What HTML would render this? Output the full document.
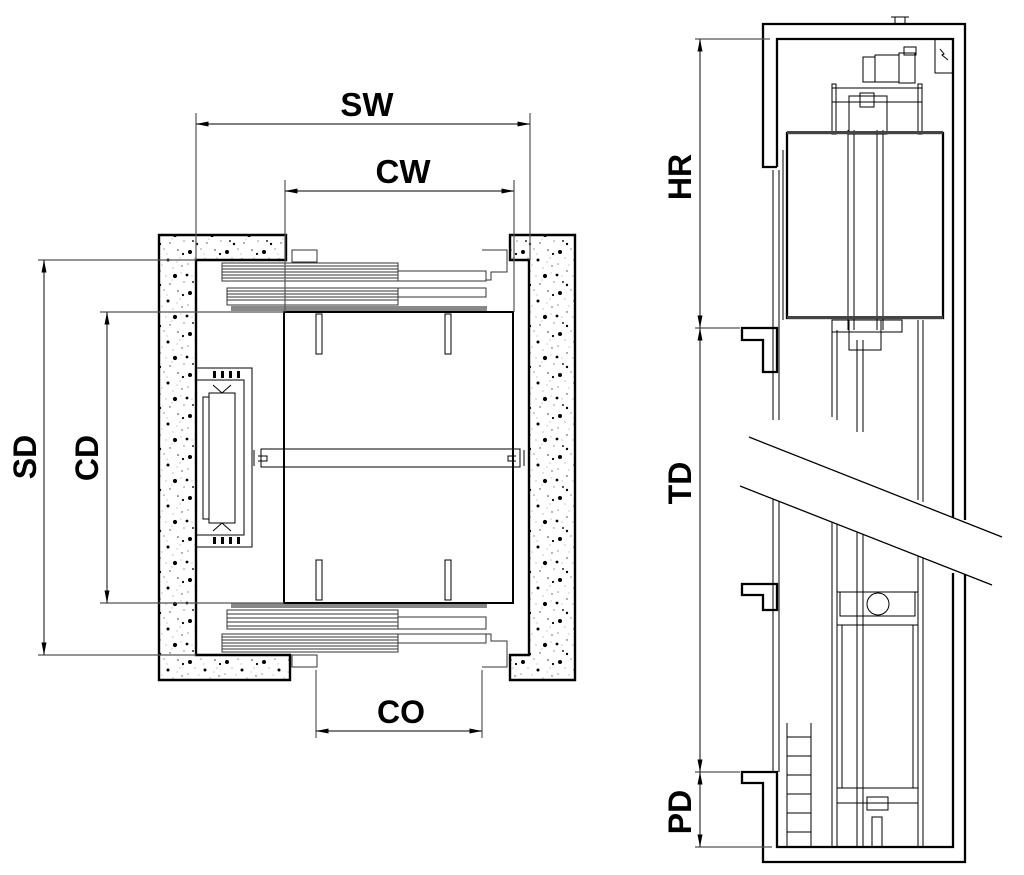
<!DOCTYPE html>
<html><head><meta charset="utf-8"><style>
html,body{margin:0;padding:0;background:#fff;}
svg{display:block;}
text{font-family:"Liberation Sans",sans-serif;font-weight:bold;fill:#000;}
</style></head><body>
<svg width="1024" height="875" viewBox="0 0 1024 875" xmlns="http://www.w3.org/2000/svg">
<defs>
<pattern id="conc" width="37" height="41" patternUnits="userSpaceOnUse">
<rect width="37" height="41" fill="#fff"/>
<circle cx="5" cy="6" r="2" fill="#000"/><circle cx="20" cy="14" r="1.5" fill="#000"/>
<circle cx="30" cy="4" r="0.8" fill="#333"/><circle cx="12" cy="25" r="0.7" fill="#333"/>
<circle cx="27" cy="30" r="2.1" fill="#000"/><circle cx="8" cy="36" r="1" fill="#222"/>
<circle cx="34" cy="20" r="0.7" fill="#444"/><circle cx="16" cy="3" r="0.6" fill="#555"/>
<circle cx="3" cy="18" r="0.6" fill="#555"/><circle cx="22" cy="38" r="0.7" fill="#444"/>
<circle cx="32" cy="12" r="0.5" fill="#666"/><circle cx="10" cy="12" r="0.5" fill="#666"/>
<circle cx="18" cy="30" r="0.5" fill="#666"/><circle cx="36" cy="36" r="0.6" fill="#555"/>
<circle cx="25" cy="22" r="0.5" fill="#666"/><circle cx="2" cy="29" r="1.4" fill="#000"/>
<circle cx="14" cy="19" r="0.5" fill="#777"/><circle cx="29" cy="16" r="0.5" fill="#777"/>
<circle cx="7" cy="30" r="0.5" fill="#777"/><circle cx="33" cy="27" r="0.5" fill="#777"/>
<circle cx="19" cy="8" r="0.5" fill="#777"/><circle cx="24" cy="34" r="0.5" fill="#777"/>
<circle cx="12" cy="39" r="1.2" fill="#000"/><circle cx="35" cy="8" r="1.1" fill="#000"/>
</pattern>
<marker id="ar" viewBox="0 0 10 4" refX="10" refY="2" markerWidth="16" markerHeight="5" markerUnits="userSpaceOnUse" orient="auto-start-reverse"><path d="M0,0L10,2L0,4z" fill="#000"/></marker>
</defs>

<!-- ===== LEFT PLAN ===== -->
<g stroke="#000" fill="url(#conc)" stroke-width="2.4">
<path d="M159,235H286V260H196V655H290V680H159Z"/>
<path d="M510,235H575V680H510V655H529V260H510Z"/>
</g>
<g fill="none" stroke="#333" stroke-width="1">
<rect x="222" y="263" width="176" height="18"/>
<line x1="222" y1="266" x2="398" y2="266"/><line x1="222" y1="269" x2="398" y2="269"/><line x1="222" y1="272" x2="398" y2="272"/><line x1="222" y1="275" x2="398" y2="275"/><line x1="222" y1="278" x2="398" y2="278"/>
<rect x="398" y="271" width="88" height="10"/>
<rect x="227" y="288" width="171" height="17"/>
<line x1="227" y1="291" x2="398" y2="291"/><line x1="227" y1="294" x2="398" y2="294"/><line x1="227" y1="297" x2="398" y2="297"/><line x1="227" y1="300" x2="398" y2="300"/>
<rect x="398" y="288" width="88" height="9"/>
<rect x="292" y="250" width="25" height="12"/>
<path d="M482,250H507V272H491V280H486"/>
<rect x="227" y="610" width="171" height="19"/>
<line x1="227" y1="614" x2="398" y2="614"/><line x1="227" y1="618" x2="398" y2="618"/><line x1="227" y1="622" x2="398" y2="622"/><line x1="227" y1="626" x2="398" y2="626"/>
<rect x="398" y="617" width="88" height="12"/>
<rect x="222" y="634" width="176" height="18"/>
<line x1="222" y1="637" x2="398" y2="637"/><line x1="222" y1="640" x2="398" y2="640"/><line x1="222" y1="643" x2="398" y2="643"/><line x1="222" y1="646" x2="398" y2="646"/><line x1="222" y1="649" x2="398" y2="649"/>
<rect x="398" y="634" width="88" height="9"/>
<rect x="292" y="655" width="25" height="12"/>
<path d="M482,667H507V641H491V634H486"/>
</g>
<rect x="231" y="306" width="256" height="5" fill="#888"/>
<rect x="231" y="603" width="256" height="5" fill="#888"/>
<rect x="284" y="312" width="229" height="291" fill="none" stroke="#000" stroke-width="2"/>
<g fill="none" stroke="#000" stroke-width="1">
<rect x="261" y="449" width="259" height="18"/>
<path d="M254,450v16M258,456h9v5h-9M524,450v16M516,456h-8v5h8"/>
<rect x="316" y="314" width="6" height="40"/><rect x="445" y="314" width="6" height="40"/>
<rect x="316" y="560" width="6" height="40"/><rect x="445" y="560" width="6" height="40"/>
<rect x="196" y="368" width="56" height="179"/>
<rect x="196" y="380" width="48" height="155"/>
<rect x="209" y="393" width="26" height="130"/>
<rect x="203" y="397" width="6" height="122"/>
<path d="M213,385l9,8l9,-8M213,531l9,-8l9,8"/>
</g>
<g fill="#000">
<rect x="213" y="371" width="3" height="7"/><rect x="221" y="371" width="3" height="7"/><rect x="229" y="371" width="3" height="7"/><rect x="237" y="371" width="3" height="7"/>
<rect x="213" y="537" width="3" height="7"/><rect x="221" y="537" width="3" height="7"/><rect x="229" y="537" width="3" height="7"/><rect x="237" y="537" width="3" height="7"/>
</g>
<g stroke="#555" stroke-width="1.2" fill="none">
<line x1="196" y1="113" x2="196" y2="260"/><line x1="530" y1="113" x2="530" y2="260"/>
<line x1="285" y1="180" x2="285" y2="312"/><line x1="514" y1="180" x2="514" y2="312"/>
<line x1="38" y1="260" x2="196" y2="260"/><line x1="38" y1="655" x2="196" y2="655"/>
<line x1="100" y1="312" x2="284" y2="312"/><line x1="100" y1="603" x2="284" y2="603"/>
<line x1="316" y1="670" x2="316" y2="738"/><line x1="482" y1="670" x2="482" y2="738"/>
</g>
<g stroke="#333" stroke-width="1.2" marker-start="url(#ar)" marker-end="url(#ar)">
<line x1="196" y1="124" x2="530" y2="124"/>
<line x1="285" y1="191" x2="514" y2="191"/>
<line x1="44" y1="260" x2="44" y2="655"/>
<line x1="107" y1="312" x2="107" y2="603"/>
<line x1="316" y1="731" x2="482" y2="731"/>
</g>
<text x="367" y="116" font-size="33" text-anchor="middle">SW</text>
<text x="403" y="183" font-size="33" text-anchor="middle">CW</text>
<text x="401" y="723" font-size="32" text-anchor="middle">CO</text>
<text transform="translate(36,457) rotate(-90)" font-size="32" text-anchor="middle">SD</text>
<text transform="translate(98,458) rotate(-90)" font-size="32" text-anchor="middle">CD</text>

<!-- ===== RIGHT SECTION ===== -->
<g fill="none" stroke="#000" stroke-width="2.3">
<path d="M777,167H763V24H965V520"/>
<path d="M777,167V39H953V520"/>
<path d="M965,573V862H763V783H742V772H777V847H953V573"/>
<path d="M742,328H777V372H763V340H742Z"/>
<path d="M742,584H777V610H763V595H742Z"/>
<rect x="787" y="133" width="156" height="185"/>
</g>
<g fill="none" stroke="#000" stroke-width="1">
<path d="M895,24V17h10v7M891,17h18"/>
<rect x="935" y="39" width="18" height="34"/>
<path d="M940,49l4,5l-2,1l6,5"/>
<rect x="863" y="57" width="12" height="25"/><rect x="875" y="55" width="24" height="27"/>
<rect x="899" y="53" width="16" height="30"/><rect x="904" y="47" width="12" height="8"/>
<rect x="832" y="88" width="90" height="14"/>
<rect x="832" y="84" width="4" height="50"/><rect x="918" y="84" width="4" height="50"/>
<rect x="849" y="96" width="38" height="38"/>
<rect x="860" y="93" width="14" height="14"/>
<line x1="848" y1="130" x2="848" y2="330"/><line x1="854" y1="130" x2="854" y2="330"/>
<line x1="877" y1="130" x2="877" y2="330"/><line x1="883" y1="130" x2="883" y2="330"/>
<line x1="857" y1="340" x2="857" y2="432"/><line x1="863" y1="340" x2="863" y2="432"/>
<line x1="857" y1="520" x2="857" y2="847"/><line x1="863" y1="520" x2="863" y2="847"/>
<line x1="832" y1="330" x2="832" y2="417"/><line x1="837" y1="330" x2="837" y2="420"/>
<line x1="832" y1="503" x2="832" y2="847"/><line x1="837" y1="505" x2="837" y2="847"/>
<line x1="918" y1="320" x2="918" y2="500"/><line x1="923" y1="320" x2="923" y2="502"/>
<line x1="918" y1="555" x2="918" y2="847"/><line x1="923" y1="557" x2="923" y2="847"/>
<rect x="832" y="320" width="70" height="12"/>
<rect x="849" y="320" width="32" height="30"/>
<line x1="773" y1="170" x2="773" y2="420"/><line x1="779" y1="170" x2="779" y2="420"/>
<line x1="773" y1="498" x2="773" y2="772"/><line x1="779" y1="498" x2="779" y2="772"/>
<line x1="783" y1="150" x2="783" y2="320"/>
<rect x="837" y="592" width="81" height="211"/>
<rect x="840" y="592" width="75" height="24"/>
<line x1="842" y1="625" x2="842" y2="788"/><line x1="913" y1="625" x2="913" y2="788"/>
<line x1="837" y1="625" x2="918" y2="625"/><line x1="837" y1="788" x2="918" y2="788"/>
<circle cx="878" cy="604" r="11"/>
<rect x="867" y="797" width="21" height="13"/>
<rect x="872" y="817" width="10" height="30"/>
<line x1="787" y1="723" x2="787" y2="847"/><line x1="811" y1="723" x2="811" y2="847"/>
<line x1="787" y1="737" x2="811" y2="737"/><line x1="787" y1="756" x2="811" y2="756"/><line x1="787" y1="775" x2="811" y2="775"/><line x1="787" y1="794" x2="811" y2="794"/><line x1="787" y1="813" x2="811" y2="813"/><line x1="787" y1="832" x2="811" y2="832"/>
</g>
<rect x="787" y="131" width="156" height="3" fill="#444"/>
<rect x="787" y="316" width="156" height="3" fill="#444"/>
<polygon points="749,437 1002,537 992,585 740,486" fill="#fff"/>
<g stroke="#000" stroke-width="1.3">
<line x1="749" y1="437" x2="1002" y2="537"/>
<line x1="740" y1="486" x2="992" y2="585"/>
</g>
<g stroke="#555" stroke-width="1.2">
<line x1="695" y1="39" x2="770" y2="39"/>
<line x1="695" y1="328" x2="740" y2="328"/>
<line x1="695" y1="772" x2="740" y2="772"/>
<line x1="695" y1="847" x2="772" y2="847"/>
</g>
<g stroke="#333" stroke-width="1.2" marker-start="url(#ar)" marker-end="url(#ar)">
<line x1="700" y1="39" x2="700" y2="328"/>
<line x1="700" y1="328" x2="700" y2="772"/>
<line x1="700" y1="772" x2="700" y2="847"/>
</g>
<rect x="664" y="150" width="30" height="56" fill="#fff"/>
<rect x="664" y="455" width="30" height="56" fill="#fff"/>
<rect x="664" y="785" width="30" height="56" fill="#fff"/>
<text transform="translate(691,177) rotate(-90)" font-size="32" text-anchor="middle">HR</text>
<text transform="translate(691,483) rotate(-90)" font-size="32" text-anchor="middle">TD</text>
<text transform="translate(691,812) rotate(-90)" font-size="32" text-anchor="middle">PD</text>
</svg>
</body></html>
